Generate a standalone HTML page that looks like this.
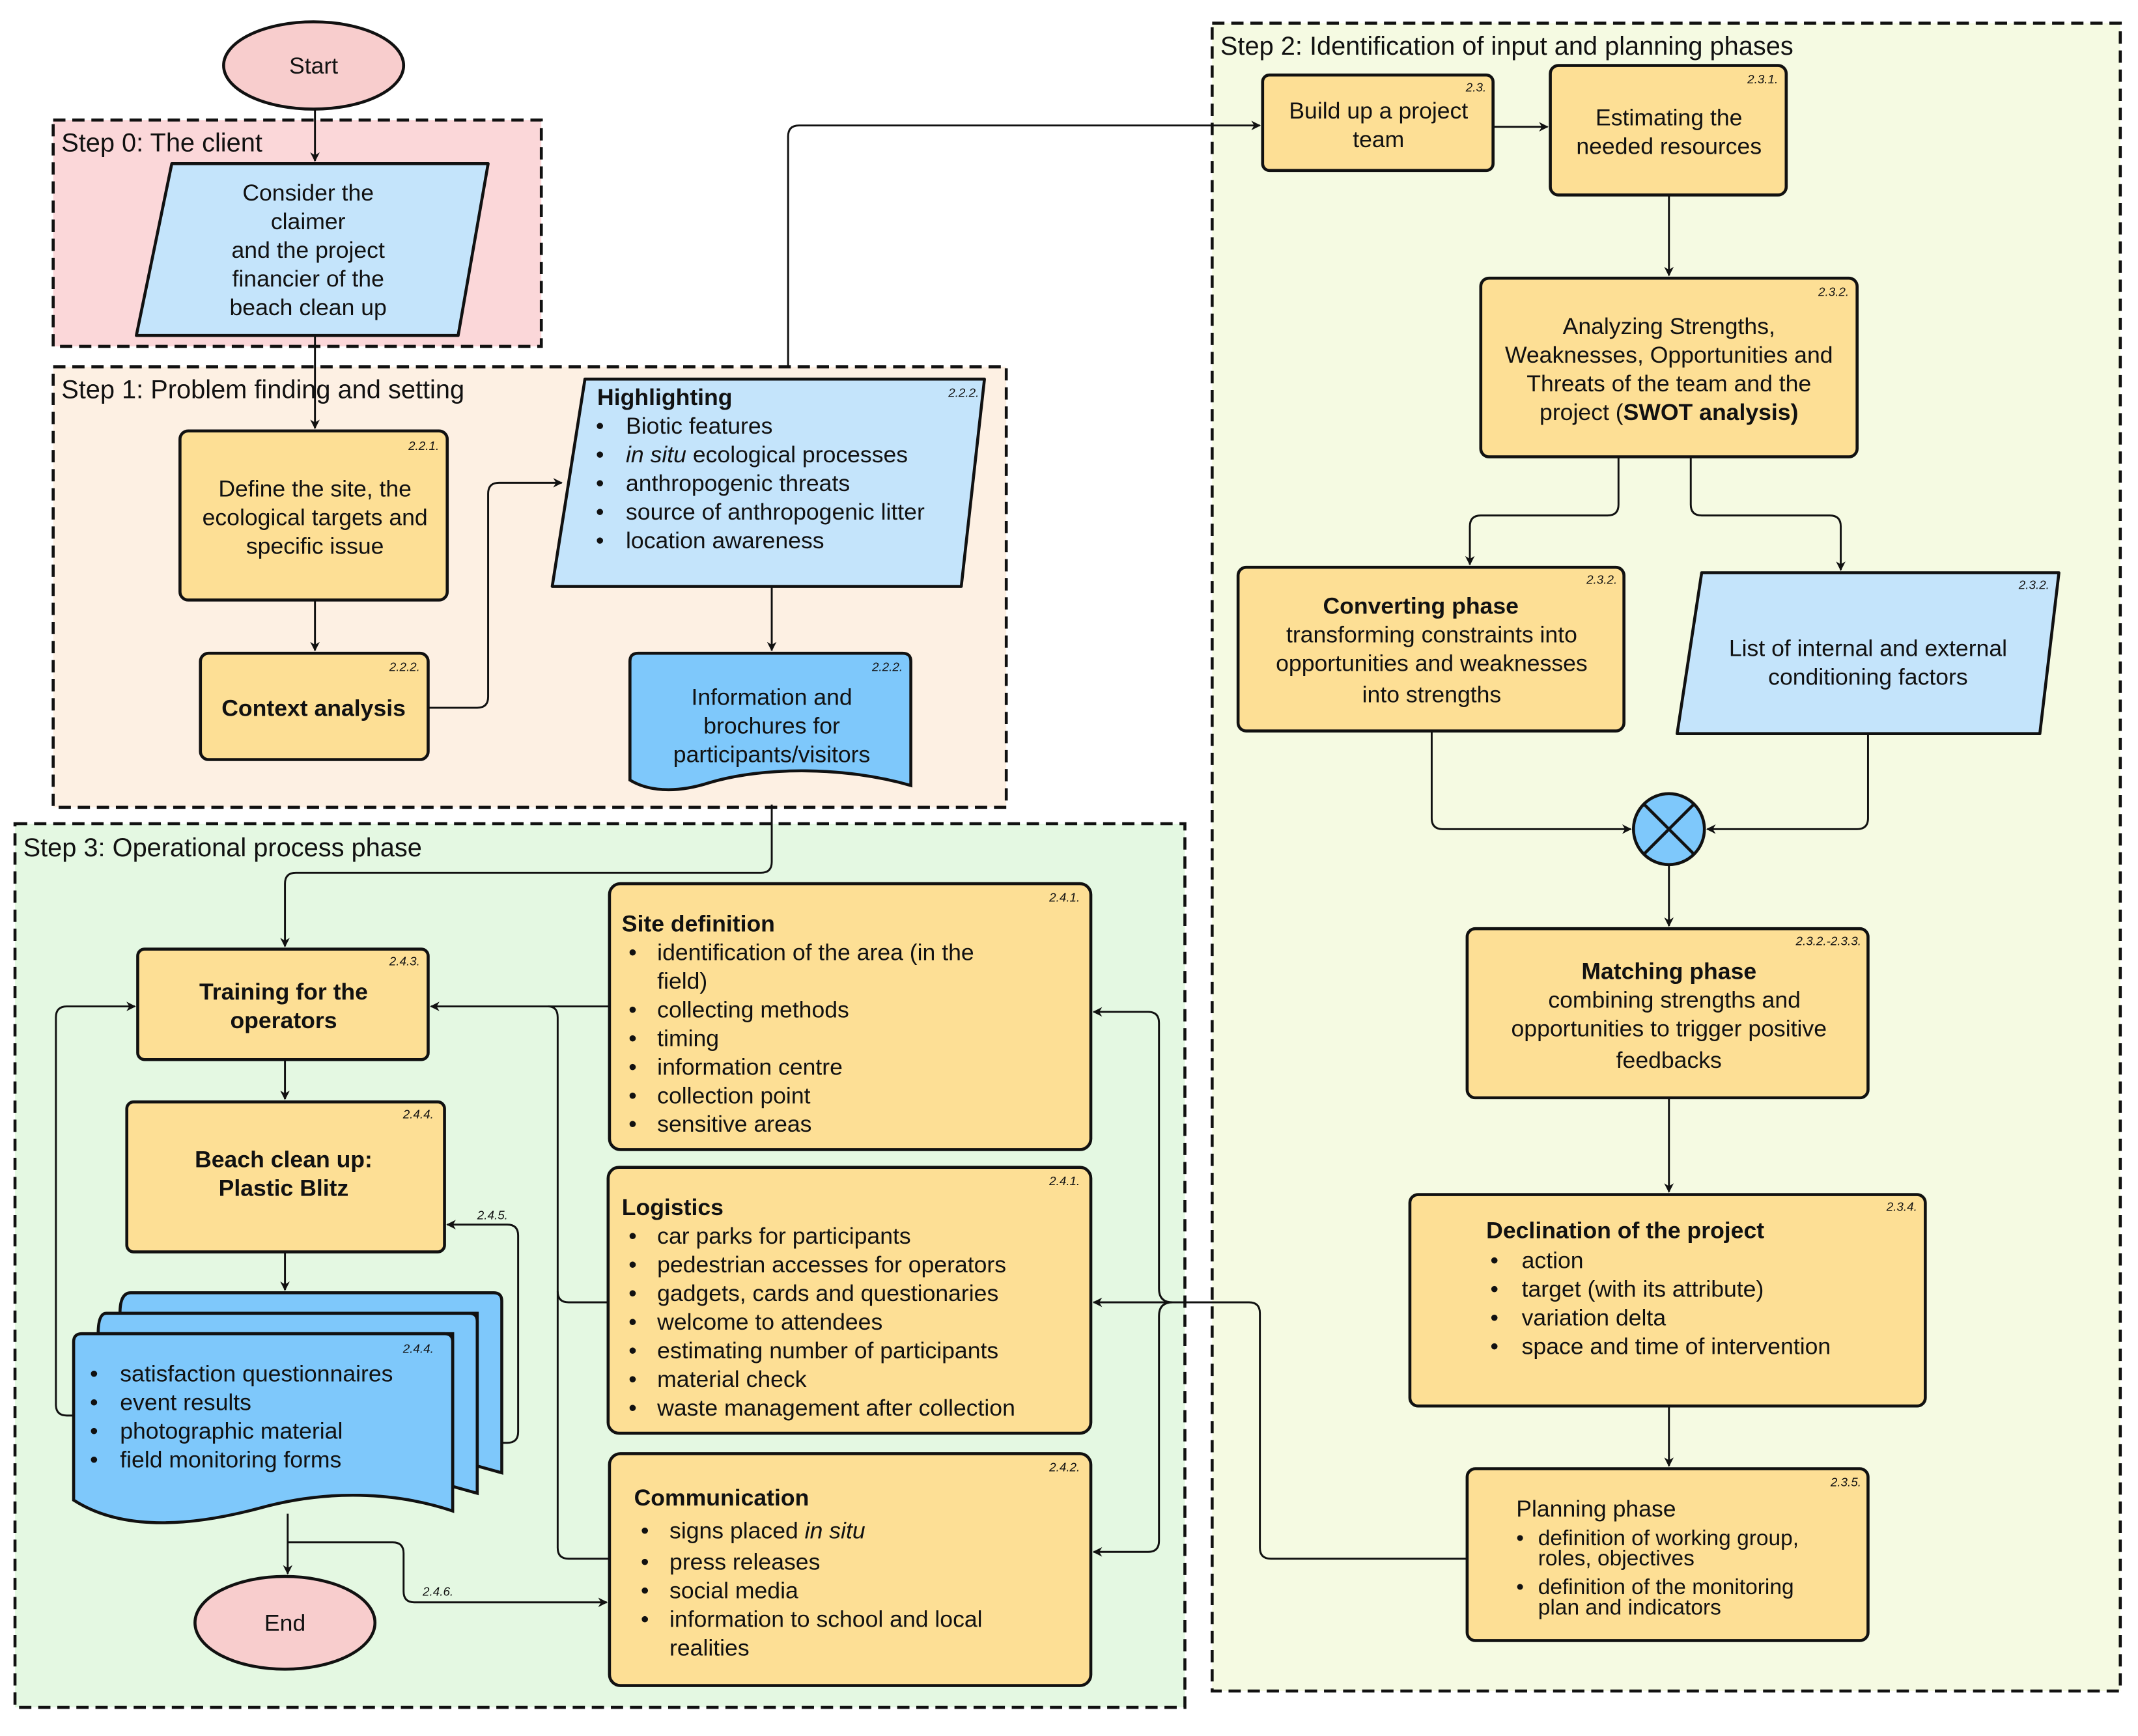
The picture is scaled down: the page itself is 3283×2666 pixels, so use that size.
<!DOCTYPE html>
<html><head><meta charset="utf-8"><style>
html,body{margin:0;padding:0;background:#fff}
svg{display:block}
text{font-family:"Liberation Sans",Arial,sans-serif;fill:#111}
.t{font-size:17px}
.b{font-weight:bold}
.n{font-size:9px;font-style:italic}
.h{font-size:19px}
</style></head><body>
<svg width="3283" height="2666" viewBox="0 0 1568 1273" preserveAspectRatio="none" xmlns="http://www.w3.org/2000/svg">
<defs>
<marker id="a" viewBox="0 0 10 10" refX="9" refY="5" markerWidth="7" markerHeight="7" orient="auto" markerUnits="userSpaceOnUse"><path d="M0,0 L10,5 L0,10 L3,5 Z" fill="#111"/></marker>
</defs>
<rect width="1568" height="1273" fill="#fff"/>
<!-- group boxes -->
<g stroke="#111" stroke-width="2.2" stroke-dasharray="9,5">
<rect x="39" y="88" width="358" height="166" fill="#fbd7d9"/>
<rect x="889" y="17" width="666" height="1223" fill="#f5fae2"/>
<rect x="11" y="604" width="858" height="648" fill="#e4f8e2"/>
<rect x="39" y="269" width="699" height="323" fill="#fdf0e3"/>
</g>
<g class="h">
<text x="45" y="111">Step 0: The client</text>
<text x="45" y="292">Step 1: Problem finding and setting</text>
<text x="895" y="40">Step 2: Identification of input and planning phases</text>
<text x="17" y="628">Step 3: Operational process phase</text>
</g>
<!-- connectors -->
<g fill="none" stroke="#111" stroke-width="1.4">
<path d="M231,80 V118" marker-end="url(#a)"/>
<path d="M231,246 V314" marker-end="url(#a)"/>
<path d="M231,440 V477" marker-end="url(#a)"/>
<path d="M314,519 H350 Q358,519 358,511 V362 Q358,354 366,354 H412" marker-end="url(#a)"/>
<path d="M566,430 V477" marker-end="url(#a)"/>
<path d="M578,269 V100 Q578,92 586,92 H924" marker-end="url(#a)"/>
<path d="M1095,93 H1135" marker-end="url(#a)"/>
<path d="M1224,143 V202" marker-end="url(#a)"/>
<path d="M1187,335 V370 Q1187,378 1179,378 H1086 Q1078,378 1078,386 V414" marker-end="url(#a)"/>
<path d="M1240,335 V370 Q1240,378 1248,378 H1342 Q1350,378 1350,386 V418" marker-end="url(#a)"/>
<path d="M1050,536 V600 Q1050,608 1058,608 H1196" marker-end="url(#a)"/>
<path d="M1370,538 V600 Q1370,608 1362,608 H1252" marker-end="url(#a)"/>
<path d="M1224,634 V679" marker-end="url(#a)"/>
<path d="M1224,805 V874" marker-end="url(#a)"/>
<path d="M1224,1031 V1075" marker-end="url(#a)"/>
<path d="M1076,1143 H932 Q924,1143 924,1135 V963 Q924,955 916,955 H802" marker-end="url(#a)"/>
<path d="M860,955 Q850,955 850,945 V750 Q850,742 842,742 H802" marker-end="url(#a)"/>
<path d="M860,955 Q850,955 850,965 V1130 Q850,1138 842,1138 H802" marker-end="url(#a)"/>
<path d="M566,590 V632 Q566,640 558,640 H217 Q209,640 209,648 V694" marker-end="url(#a)"/>
<path d="M447,738 H316" marker-end="url(#a)"/>
<path d="M402,738 Q409,738 409,746 V1135 Q409,1143 417,1143 H447"/>
<path d="M409,947 Q409,955 417,955 H446"/>
<path d="M209,777 V806" marker-end="url(#a)"/>
<path d="M209,918 V946" marker-end="url(#a)"/>
<path d="M54,1038 H49 Q41,1038 41,1030 V746 Q41,738 49,738 H99" marker-end="url(#a)"/>
<path d="M368,1058 H372 Q380,1058 380,1050 V906 Q380,898 372,898 H328" marker-end="url(#a)"/>
<path d="M211,1110 V1154" marker-end="url(#a)"/>
<path d="M211,1131 H288 Q296,1131 296,1139 V1167 Q296,1175 304,1175 H445" marker-end="url(#a)"/>
</g>
<text x="350" y="894" class="n">2.4.5.</text>
<text x="310" y="1170" class="n">2.4.6.</text>
<!-- shapes -->
<g stroke="#111" stroke-width="2.2">
<ellipse cx="230" cy="48" rx="66" ry="32" fill="#f8cdcd"/>
<ellipse cx="209" cy="1190" rx="66" ry="34" fill="#f8cdcd"/>
<path d="M126,120 H358 L336,246 H100 Z" fill="#c4e4fb" stroke-linejoin="round"/>
<path d="M429,278 H722 L705,430 H405 Z" fill="#c4e4fb" stroke-linejoin="round"/>
<path d="M1248,420 H1510 L1496,538 H1230 Z" fill="#c4e4fb" stroke-linejoin="round"/>
<g fill="#fddf95">
<rect x="132" y="316" width="196" height="124" rx="6"/>
<rect x="147" y="479" width="167" height="78" rx="6"/>
<rect x="926" y="55" width="169" height="70" rx="5"/>
<rect x="1137" y="48" width="173" height="95" rx="6"/>
<rect x="1086" y="204" width="276" height="131" rx="6"/>
<rect x="908" y="416" width="283" height="120" rx="6"/>
<rect x="1076" y="681" width="294" height="124" rx="6"/>
<rect x="1034" y="876" width="378" height="155" rx="6"/>
<rect x="1076" y="1077" width="294" height="126" rx="6"/>
<rect x="101" y="696" width="213" height="81" rx="5"/>
<rect x="93" y="808" width="233" height="110" rx="5"/>
<rect x="447" y="648" width="353" height="195" rx="8"/>
<rect x="446" y="856" width="354" height="195" rx="8"/>
<rect x="447" y="1066" width="353" height="170" rx="8"/>
</g>
<path d="M468,479 H662 Q668,479 668,485 V576 C620,562 560,562 520,574 C495,582 475,580 462,572 V485 Q462,479 468,479 Z" fill="#7ec8fb"/>
<path d="M96,948 H362 Q368,948 368,954 V1080 L350,1075 V963 H88 Q88,948 96,948 Z" fill="#7ec8fb"/>
<path d="M78,963 H344 Q350,963 350,969 V1095 L332,1090 V978 H72 Q72,963 78,963 Z" fill="#7ec8fb"/>
<path d="M60,978 H326 Q332,978 332,984 V1108 C290,1094 240,1092 190,1106 C130,1122 85,1120 54,1100 V984 Q54,978 60,978 Z" fill="#7ec8fb"/>
<circle cx="1224" cy="608" r="26" fill="#7ec8fb"/>
<path d="M1206,590 L1242,626 M1242,590 L1206,626" fill="none"/>
</g>
<!-- numbers -->
<g class="n" text-anchor="end">
<text x="322" y="330">2.2.1.</text>
<text x="308" y="492">2.2.2.</text>
<text x="718" y="291">2.2.2.</text>
<text x="662" y="492">2.2.2.</text>
<text x="1090" y="67">2.3.</text>
<text x="1304" y="61">2.3.1.</text>
<text x="1356" y="217">2.3.2.</text>
<text x="1186" y="428">2.3.2.</text>
<text x="1503" y="432">2.3.2.</text>
<text x="1365" y="693">2.3.2.-2.3.3.</text>
<text x="1406" y="888">2.3.4.</text>
<text x="1365" y="1090">2.3.5.</text>
<text x="308" y="708">2.4.3.</text>
<text x="318" y="820">2.4.4.</text>
<text x="318" y="992">2.4.4.</text>
<text x="792" y="661">2.4.1.</text>
<text x="792" y="869">2.4.1.</text>
<text x="792" y="1079">2.4.2.</text>
</g>
<!-- texts -->
<g class="t" text-anchor="middle">
<text x="230" y="54">Start</text>
<text x="209" y="1196">End</text>
<text x="226" y="147">Consider the</text>
<text x="226" y="168">claimer</text>
<text x="226" y="189">and the project</text>
<text x="226" y="210">financier of the</text>
<text x="226" y="231">beach clean up</text>
<text x="231" y="364">Define the site, the</text>
<text x="231" y="385">ecological targets and</text>
<text x="231" y="406">specific issue</text>
<text x="230" y="525" class="b">Context analysis</text>
<text x="566" y="517">Information and</text>
<text x="566" y="538">brochures for</text>
<text x="566" y="559">participants/visitors</text>
<text x="1011" y="87">Build up a project</text>
<text x="1011" y="108">team</text>
<text x="1224" y="92">Estimating the</text>
<text x="1224" y="113">needed resources</text>
<text x="1224" y="245">Analyzing Strengths,</text>
<text x="1224" y="266">Weaknesses, Opportunities and</text>
<text x="1224" y="287">Threats of the team and the</text>
<text x="1224" y="308">project (<tspan class="b">SWOT analysis)</tspan></text>
<text x="1042" y="450" class="b">Converting phase</text>
<text x="1050" y="471">transforming constraints into</text>
<text x="1050" y="492">opportunities and weaknesses</text>
<text x="1050" y="515">into strengths</text>
<text x="1370" y="481">List of internal and external</text>
<text x="1370" y="502">conditioning factors</text>
<text x="1224" y="718" class="b">Matching phase</text>
<text x="1228" y="739">combining strengths and</text>
<text x="1224" y="760">opportunities to trigger positive</text>
<text x="1224" y="783">feedbacks</text>
<text x="208" y="733" class="b">Training for the</text>
<text x="208" y="754" class="b">operators</text>
<text x="208" y="856" class="b">Beach clean up:</text>
<text x="208" y="877" class="b">Plastic Blitz</text>
</g>
<g class="t">
<text x="438" y="297" class="b">Highlighting</text>
<text x="437" y="318">•<tspan x="459">Biotic features</tspan></text>
<text x="437" y="339">•<tspan x="459" font-style="italic">in situ</tspan> ecological processes</text>
<text x="437" y="360">•<tspan x="459">anthropogenic threats</tspan></text>
<text x="437" y="381">•<tspan x="459">source of anthropogenic litter</tspan></text>
<text x="437" y="402">•<tspan x="459">location awareness</tspan></text>

<text x="1090" y="908" class="b">Declination of the project</text>
<text x="1093" y="930">•<tspan x="1116">action</tspan></text>
<text x="1093" y="951">•<tspan x="1116">target (with its attribute)</tspan></text>
<text x="1093" y="972">•<tspan x="1116">variation delta</tspan></text>
<text x="1093" y="993">•<tspan x="1116">space and time of intervention</tspan></text>

<text x="1112" y="1112">Planning phase</text>
<text x="1112" y="1133" font-size="16">•<tspan x="1128">definition of working group,</tspan></text>
<text x="1128" y="1148" font-size="16">roles, objectives</text>
<text x="1112" y="1169" font-size="16">•<tspan x="1128">definition of the monitoring</tspan></text>
<text x="1128" y="1184" font-size="16">plan and indicators</text>

<text x="456" y="683" class="b">Site definition</text>
<text x="461" y="704">•<tspan x="482">identification of the area (in the</tspan></text>
<text x="482" y="725">field)</text>
<text x="461" y="746">•<tspan x="482">collecting methods</tspan></text>
<text x="461" y="767">•<tspan x="482">timing</tspan></text>
<text x="461" y="788">•<tspan x="482">information centre</tspan></text>
<text x="461" y="809">•<tspan x="482">collection point</tspan></text>
<text x="461" y="830">•<tspan x="482">sensitive areas</tspan></text>

<text x="456" y="891" class="b">Logistics</text>
<text x="461" y="912">•<tspan x="482">car parks for participants</tspan></text>
<text x="461" y="933">•<tspan x="482">pedestrian accesses for operators</tspan></text>
<text x="461" y="954">•<tspan x="482">gadgets, cards and questionaries</tspan></text>
<text x="461" y="975">•<tspan x="482">welcome to attendees</tspan></text>
<text x="461" y="996">•<tspan x="482">estimating number of participants</tspan></text>
<text x="461" y="1017">•<tspan x="482">material check</tspan></text>
<text x="461" y="1038">•<tspan x="482">waste management after collection</tspan></text>

<text x="465" y="1104" class="b">Communication</text>
<text x="470" y="1128">•<tspan x="491">signs placed <tspan font-style="italic">in situ</tspan></tspan></text>
<text x="470" y="1151">•<tspan x="491">press releases</tspan></text>
<text x="470" y="1172">•<tspan x="491">social media</tspan></text>
<text x="470" y="1193">•<tspan x="491">information to school and local</tspan></text>
<text x="491" y="1214">realities</text>

<text x="66" y="1013">•<tspan x="88">satisfaction questionnaires</tspan></text>
<text x="66" y="1034">•<tspan x="88">event results</tspan></text>
<text x="66" y="1055">•<tspan x="88">photographic material</tspan></text>
<text x="66" y="1076">•<tspan x="88">field monitoring forms</tspan></text>
</g>
</svg>
</body></html>
